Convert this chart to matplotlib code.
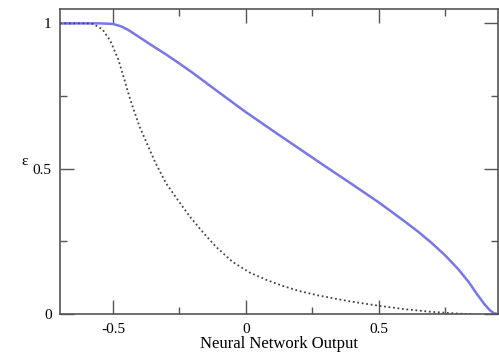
import matplotlib
matplotlib.use("Agg")
import matplotlib.pyplot as plt
from matplotlib.ticker import MultipleLocator, FixedFormatter, FixedLocator

# solid blue curve
blue_x = [-0.7, -0.55, -0.5, -0.47, -0.44, -0.4, -0.35, -0.3, -0.25, -0.2,
          -0.1, 0.0, 0.1, 0.2, 0.3, 0.4, 0.5, 0.6, 0.65, 0.7, 0.75, 0.8,
          0.84, 0.87, 0.9, 0.92, 0.935, 0.95]
blue_y = [1.0, 1.0, 0.998, 0.99, 0.976, 0.952, 0.922, 0.893, 0.862, 0.83,
          0.762, 0.695, 0.632, 0.57, 0.508, 0.447, 0.385, 0.318, 0.283, 0.245,
          0.203, 0.155, 0.11, 0.07, 0.033, 0.013, 0.003, 0.0]

# dotted black curve
dot_x = [-0.7, -0.6, -0.575, -0.54, -0.51, -0.48, -0.455, -0.435, -0.4, -0.34,
         -0.3, -0.25, -0.21, -0.16, -0.11, -0.05, 0.015, 0.08, 0.14, 0.2,
         0.27, 0.35, 0.4, 0.5, 0.6, 0.7, 0.8, 0.85]
dot_y = [1.0, 1.0, 0.998, 0.98, 0.94, 0.876, 0.80, 0.738, 0.645, 0.52,
         0.45, 0.385, 0.335, 0.28, 0.23, 0.18, 0.143, 0.117, 0.097, 0.08,
         0.065, 0.051, 0.043, 0.029, 0.017, 0.008, 0.002, 0.0]

plt.rcParams['font.family'] = ['Liberation Serif', 'DejaVu Serif']

fig = plt.figure(figsize=(4.99, 3.53), dpi=100)
ax = fig.add_axes([0.120, 0.110, 0.878, 0.865])

ax.plot(blue_x, blue_y, color="#7777e6", lw=1.8)
ax.plot(dot_x, dot_y, color="#444444", lw=1.3, ls=(0, (1, 1.5)))

ax.set_xlim(-0.7, 0.95)
ax.set_ylim(0, 1.05)
ax.xaxis.set_major_locator(FixedLocator([-0.5, 0, 0.5]))
ax.xaxis.set_major_formatter(FixedFormatter(["-0.5", "0", "0.5"]))
ax.xaxis.set_minor_locator(MultipleLocator(0.25))
ax.yaxis.set_major_locator(FixedLocator([0, 0.5, 1]))
ax.yaxis.set_major_formatter(FixedFormatter(["0", "0.5", "1"]))
ax.yaxis.set_minor_locator(MultipleLocator(0.25))

ax.tick_params(which="both", direction="in", top=True, right=True,
               labelsize=11, color="#555555", width=1)
ax.tick_params(which="major", length=10, pad=6)
ax.tick_params(which="minor", length=5)
for s in ax.spines.values():
    s.set_color("#555555")
    s.set_linewidth(1.2)

ax.set_xlabel("Neural Network Output", fontsize=12, labelpad=0)
ax.set_ylabel("ε", fontsize=11, rotation=0, labelpad=6, va="center")

fig.savefig("out.png", dpi=100)
